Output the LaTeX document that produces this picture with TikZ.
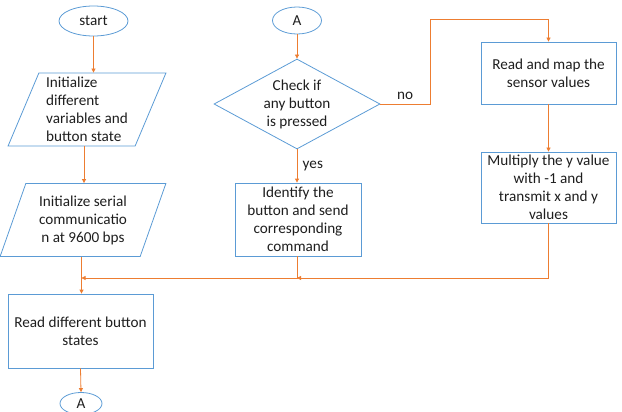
\documentclass[tikz,border=0pt]{standalone}
\usepackage{fontspec}
\setmainfont{Carlito}
\usepackage{tikz}
\usetikzlibrary{shapes.geometric,arrows.meta}
\definecolor{fcblue}{HTML}{5B9BD5}
\definecolor{fcorange}{HTML}{ED7D31}
\definecolor{fctext}{HTML}{1E1E1E}

\begin{document}
\begin{tikzpicture}[x=1pt, y=-1pt,
  every node/.style={font=\fontsize{15.2}{18}\selectfont, text=fctext},
  term/.style={draw=fcblue, line width=0.8pt, ellipse, inner sep=0pt},
  io/.style={draw=fcblue, line width=0.8pt, trapezium, trapezium left angle=68, trapezium right angle=112, trapezium stretches=true, inner sep=0pt},
  proc/.style={draw=fcblue, line width=0.8pt, rectangle, inner sep=1pt, align=center},
  flow/.style={draw=fcorange, line width=0.8pt, -{Triangle[length=4pt,width=4pt]}}]
  \useasboundingbox (0,0) rectangle (622,412);
  \node[term, minimum width=69pt, minimum height=30pt] (start) at (93.5,21) {start};
  \node[io, minimum width=158pt, minimum height=73pt, align=left] (init) at (87,109.5) {Initialize\\different\\variables and\\button state};
  \node[io, minimum width=166pt, minimum height=73pt, align=center] (serial) at (83,220) {Initialize serial\\communicatio\\n at 9600 bps};
  \node[proc, minimum width=145pt, minimum height=74pt] (read) at (80.5,331) {Read different button\\states};
  \node[term, minimum width=42pt, minimum height=22pt] (retA) at (81,403.5) {A};
  \node[term, minimum width=49pt, minimum height=27pt] (entA) at (297,20.5) {A};
  \node[draw=fcblue, line width=0.8pt, diamond, aspect=1.84, minimum width=166pt, minimum height=90pt, inner sep=0pt, align=center] (check) at (297,104) {Check if\\any button\\is pressed};
  \node[proc, minimum width=126pt, minimum height=73pt] (ident) at (298,219.5) {Identify the\\button and send\\corresponding\\command};
  \node[proc, minimum width=135pt, minimum height=62pt] (sensor) at (548.5,73) {Read and map the\\sensor values};
  \node[proc, minimum width=135pt, minimum height=71pt] (multiply) at (548.5,187.5) {Multiply the y value\\with -1 and\\transmit x and y\\values};
  \coordinate (joinR) at (297,278);
  \coordinate (joinL) at (81.5,278);
  \coordinate (noUp) at (430,19);
  \draw[flow] (start.south) -- (start.south |- init.north);
  \draw[flow] ([xshift=-3pt]init.south) -- ([xshift=-3pt]init.south |- serial.north);
  \draw[flow] ([xshift=-1.5pt]serial.south) -- ([xshift=-1.5pt]serial.south |- read.north);
  \draw[flow] (read.south) -- (retA.north);
  \draw[flow] (entA.south) -- (check.north);
  \draw[flow] (check.south) -- node[right, pos=0.5, xshift=2pt] (yes) {yes} (check.south |- ident.north);
  \draw[flow] (check.east) -- node[above, pos=0.5, yshift=1pt] (no) {no} (check.east -| noUp) -- (noUp) -| (sensor.north);
  \draw[flow] (sensor.south) -- (multiply.north);
  \draw[flow] (multiply.south) |- (joinR);
  \draw[flow] (ident.south -| joinR) |- (joinL);
\end{tikzpicture}
\end{document}
